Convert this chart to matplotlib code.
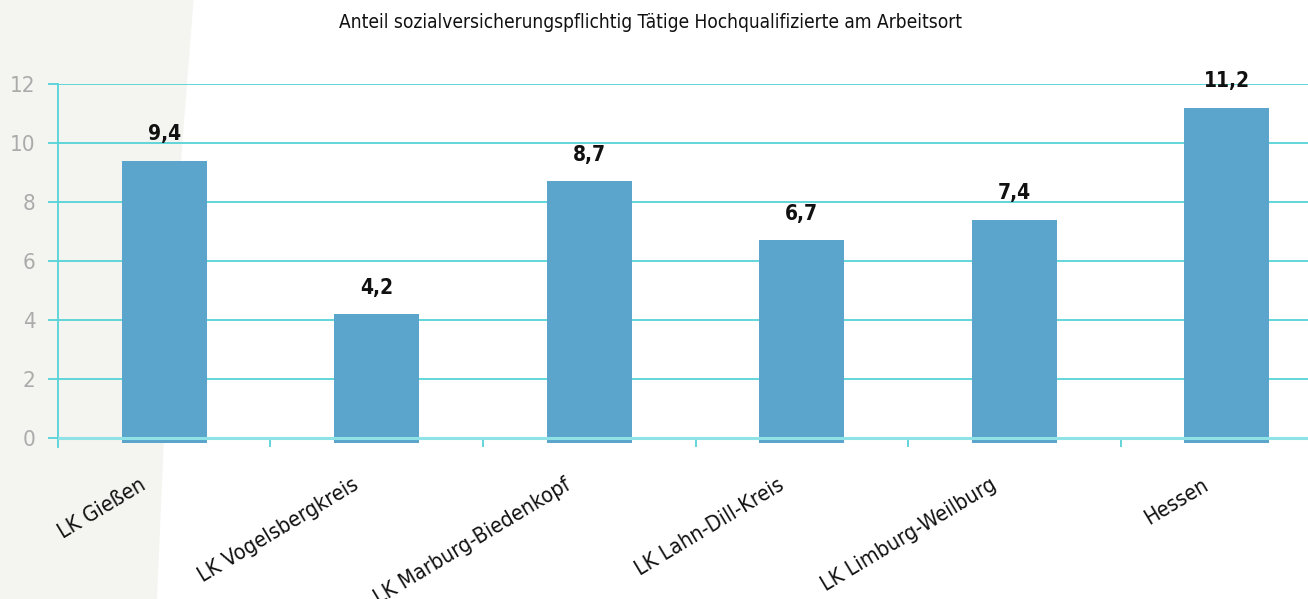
import matplotlib
matplotlib.use('Agg')
import matplotlib.pyplot as plt
import matplotlib.transforms as mtransforms
from matplotlib.patches import Polygon
import numpy as np

# ======================
# DATA
# ======================
categories = ['LK Gießen', 'LK Vogelsbergkreis', 'LK Marburg-Biedenkopf',
              'LK Lahn-Dill-Kreis', 'LK Limburg-Weilburg', 'Hessen']
values = [9.4, 4.2, 8.7, 6.7, 7.4, 11.2]
value_labels = ['9,4', '4,2', '8,7', '6,7', '7,4', '11,2']
title = 'Anteil sozialversicherungspflichtig Tätige Hochqualifizierte am Arbeitsort'

# ======================
# STYLE
# ======================
plt.rcParams['font.family'] = ['DejaVu Sans']
plt.rcParams['font.stretch'] = 'condensed'
bar_color = '#5BA4CB'
grid_color = '#55D3D8'

fig = plt.figure(figsize=(13.08, 5.99), dpi=100)

# faint grey texture on the left side of the background
bg = Polygon([(0, 0), (0.12, 0), (0.13, 0.5), (0.148, 1.0), (0, 1.0)],
             closed=True, transform=fig.transFigure, facecolor='#F4F4F0',
             edgecolor='none', zorder=-10)
fig.patches.append(bg)

# the plot area runs a little past the right edge of the picture
ax = fig.add_axes([0.0443, 0.2538, 0.975, 0.606])
ax.patch.set_alpha(0)

x = np.arange(len(categories))
ax.bar(x, np.array(values) + 0.15, bottom=-0.15, width=0.4,
       color=bar_color, zorder=2)

for xi, v, lab in zip(x, values, value_labels):
    ax.annotate(lab, (xi, v), xytext=(0, 12), textcoords='offset points',
                ha='center', va='bottom', fontsize=15, fontweight='bold',
                color='#111111')

ax.set_xlim(-0.5, len(categories) - 0.5)
ax.set_ylim(-0.3, 12)
ax.set_yticks([0, 2, 4, 6, 8, 10, 12])
ax.grid(axis='y', color=grid_color, linewidth=1.3, zorder=1)
ax.axhline(0, color='#8FE2E6', linewidth=2.2, zorder=3)
ax.set_axisbelow(True)

for s in ['top', 'right', 'bottom']:
    ax.spines[s].set_visible(False)
ax.spines['left'].set_color(grid_color)
ax.spines['left'].set_linewidth(1.3)

ax.tick_params(axis='y', colors=grid_color, length=7, width=1.3,
               labelcolor='#ABABAB', labelsize=16, pad=9)
ax.set_xticks(x)
ax.set_xticklabels(categories, rotation=31, ha='right',
                   rotation_mode='anchor', fontsize=15.5, color='#111111')
ax.tick_params(axis='x', length=0, pad=20)
shift = mtransforms.ScaledTranslation(-25 / 100, 0, fig.dpi_scale_trans)
for lab in ax.get_xticklabels():
    lab.set_transform(lab.get_transform() + shift)
ax.set_xticks(x[1:] - 0.5, minor=True)
ax.tick_params(axis='x', which='minor', direction='in', length=7,
               width=1.3, color=grid_color)

fig.text(0.497, 0.962, title, ha='center', va='center', fontsize=13.7,
         color='#111111')

plt.savefig('out.png', dpi=100)
